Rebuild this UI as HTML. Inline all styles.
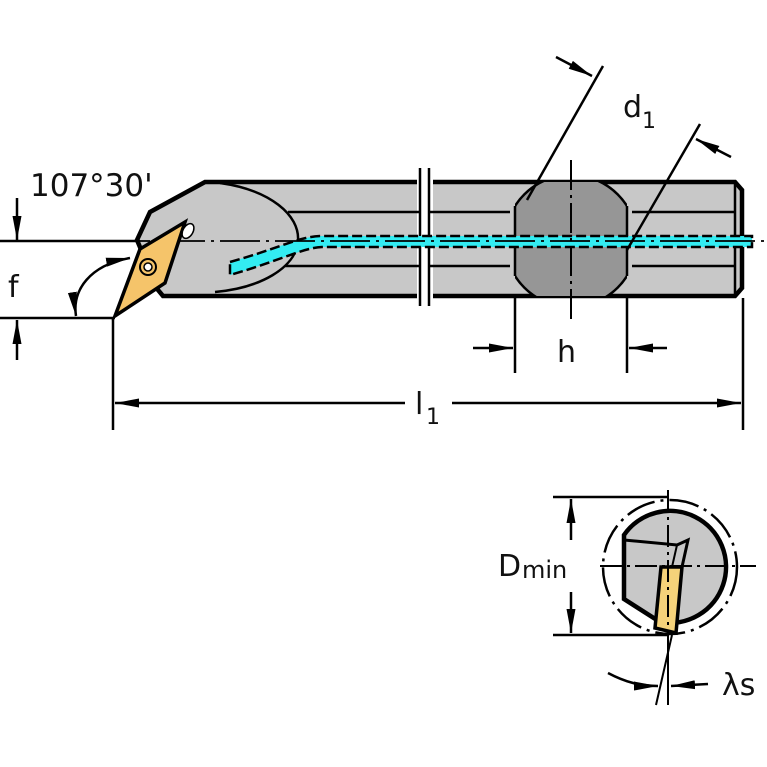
<!DOCTYPE html>
<html><head><style>body{margin:0;background:#fff}svg{display:block}text{font-family:"DejaVu Sans","Liberation Sans",sans-serif;fill:#111}</style></head><body>
<svg width="767" height="767" viewBox="0 0 767 767" xmlns="http://www.w3.org/2000/svg">
<defs><marker id="a" viewBox="0 0 24 10" refX="24" refY="5" markerWidth="24" markerHeight="10" orient="auto-start-reverse" markerUnits="userSpaceOnUse"><path d="M0,0.5 L24,5 L0,9.5 Z" fill="#000"/></marker>
<clipPath id="cc"><rect x="515" y="182" width="112" height="114"/></clipPath></defs>
<!-- shank -->
<path d="M205,182 L735,182 L742,190 L742,288 L735,296 L163,296 L158,290 L137,240 L150,212 Z" fill="#c8c8c8" stroke="#000" stroke-width="4.5"/>
<rect x="417" y="176" width="16" height="126" fill="#fff"/>
<g stroke="#000" stroke-width="2.5"><line x1="420" y1="168" x2="420" y2="306"/><line x1="429" y1="168" x2="429" y2="306"/></g>
<line x1="735" y1="184" x2="735" y2="294" stroke="#000" stroke-width="2.5"/>
<path d="M220,183 C270,190 300,215 298,241 C296,268 260,288 215,292" fill="none" stroke="#000" stroke-width="2.5"/>
<g stroke="#000" stroke-width="2.5"><line x1="288" y1="212" x2="420" y2="212"/><line x1="429" y1="212" x2="510" y2="212"/><line x1="632" y1="212" x2="735" y2="212"/>
<line x1="285" y1="266" x2="420" y2="266"/><line x1="429" y1="266" x2="510" y2="266"/><line x1="632" y1="266" x2="735" y2="266"/></g>
<circle cx="571" cy="241" r="66" fill="#969696" stroke="#000" stroke-width="2.5" clip-path="url(#cc)"/>
<line x1="515" y1="206" x2="515" y2="276" stroke="#000" stroke-width="2.5"/><line x1="627" y1="206" x2="627" y2="276" stroke="#000" stroke-width="2.5"/>
<!-- coolant -->
<path d="M230,262 C280,248 298,237 320,236 L752,236 L752,247 L322,247 C302,248 282,260 230,275 Z" fill="#33ecf2" stroke="#000" stroke-width="2.5" stroke-dasharray="10,4"/>
<!-- centerline -->
<line x1="0" y1="241" x2="767" y2="241" stroke="#000" stroke-width="1.8" stroke-dasharray="40,6,3,6"/>
<line x1="0" y1="241" x2="140" y2="241" stroke="#000" stroke-width="2.5"/>
<line x1="571" y1="160" x2="571" y2="320" stroke="#000" stroke-width="2" stroke-dasharray="30,5,3,5"/>
<!-- insert -->
<path d="M115,316 L140,249 L185,222 L165,283 Z" fill="#f5c46a" stroke="#000" stroke-width="3.5"/>
<circle cx="148" cy="267" r="8" fill="none" stroke="#000" stroke-width="2"/><circle cx="148" cy="267" r="4" fill="#fff" stroke="#000" stroke-width="1.5"/>
<ellipse cx="188" cy="231" rx="5" ry="8" transform="rotate(30 188 231)" fill="#fff" stroke="#000" stroke-width="1.5"/>
<!-- f dims -->
<line x1="0" y1="318" x2="115" y2="318" stroke="#000" stroke-width="2.5"/>
<line x1="113" y1="318" x2="113" y2="430" stroke="#000" stroke-width="2.5"/>
<line x1="17" y1="198" x2="17" y2="240" stroke="#000" stroke-width="2.5" marker-end="url(#a)"/>
<line x1="17" y1="360" x2="17" y2="320" stroke="#000" stroke-width="2.5" marker-end="url(#a)"/>
<text x="8" y="297" font-size="30">f</text>
<text x="30" y="196" font-size="31">107°30'</text>
<path d="M76,316 C72,290 90,265 130,258" fill="none" stroke="#000" stroke-width="2.5" marker-start="url(#a)" marker-end="url(#a)"/>
<!-- l1 -->
<line x1="743" y1="298" x2="743" y2="430" stroke="#000" stroke-width="2.5"/>
<line x1="115" y1="403" x2="405" y2="403" stroke="#000" stroke-width="2.5" marker-start="url(#a)"/>
<line x1="452" y1="403" x2="741" y2="403" stroke="#000" stroke-width="2.5" marker-end="url(#a)"/>
<text x="415" y="414" font-size="30">l</text><text x="426" y="424" font-size="22">1</text>
<!-- h -->
<line x1="515" y1="296" x2="515" y2="373" stroke="#000" stroke-width="2.5"/><line x1="627" y1="296" x2="627" y2="373" stroke="#000" stroke-width="2.5"/>
<line x1="473" y1="348" x2="513" y2="348" stroke="#000" stroke-width="2.5" marker-end="url(#a)"/>
<line x1="667" y1="348" x2="629" y2="348" stroke="#000" stroke-width="2.5" marker-end="url(#a)"/>
<text x="557" y="362" font-size="30">h</text>
<!-- d1 -->
<line x1="527" y1="200" x2="603" y2="66" stroke="#000" stroke-width="2.5"/>
<line x1="627" y1="250" x2="700" y2="124" stroke="#000" stroke-width="2.5"/>
<line x1="556" y1="57" x2="592" y2="76" stroke="#000" stroke-width="2.5" marker-end="url(#a)"/>
<line x1="731" y1="157" x2="696" y2="139" stroke="#000" stroke-width="2.5" marker-end="url(#a)"/>
<text x="623" y="117" font-size="30">d</text><text x="642" y="128" font-size="22">1</text>
<!-- bottom view -->
<circle cx="670" cy="567" r="67" fill="none" stroke="#000" stroke-width="2.5" stroke-dasharray="30,6,3,6"/>
<path d="M624,535 A56,56 0 1,1 660,622 L624,599 Z" fill="#c8c8c8" stroke="#000" stroke-width="4.5"/>
<path d="M624,540 L677,545 L688,540 L682,567 L661,567 L660,622" fill="none" stroke="#000" stroke-width="3"/>
<path d="M661,567 L682,567 L676,633 L655,628 Z" fill="#f5d27a" stroke="#000" stroke-width="3.5"/>
<line x1="677" y1="545" x2="672" y2="567" stroke="#000" stroke-width="2"/>
<line x1="600" y1="566" x2="756" y2="566" stroke="#000" stroke-width="2" stroke-dasharray="22,5,3,5"/>
<line x1="668" y1="490" x2="668" y2="640" stroke="#000" stroke-width="2" stroke-dasharray="22,5,3,5"/>
<line x1="553" y1="497" x2="668" y2="497" stroke="#000" stroke-width="2.5"/>
<line x1="553" y1="635" x2="668" y2="635" stroke="#000" stroke-width="2.5"/>
<line x1="571" y1="540" x2="571" y2="499" stroke="#000" stroke-width="2.5" marker-end="url(#a)"/>
<line x1="571" y1="592" x2="571" y2="633" stroke="#000" stroke-width="2.5" marker-end="url(#a)"/>
<text x="498" y="576" font-size="30">D</text><text x="522" y="578" font-size="24">min</text>
<line x1="668" y1="635" x2="668" y2="705" stroke="#000" stroke-width="2"/>
<line x1="672" y1="635" x2="656" y2="705" stroke="#000" stroke-width="2"/>
<path d="M608,673 C625,682 640,686 658,686" fill="none" stroke="#000" stroke-width="2.5" marker-end="url(#a)"/>
<line x1="708" y1="684" x2="671" y2="686" stroke="#000" stroke-width="2.5" marker-end="url(#a)"/>
<text x="722" y="695" font-size="30">λs</text>
</svg>
</body></html>
